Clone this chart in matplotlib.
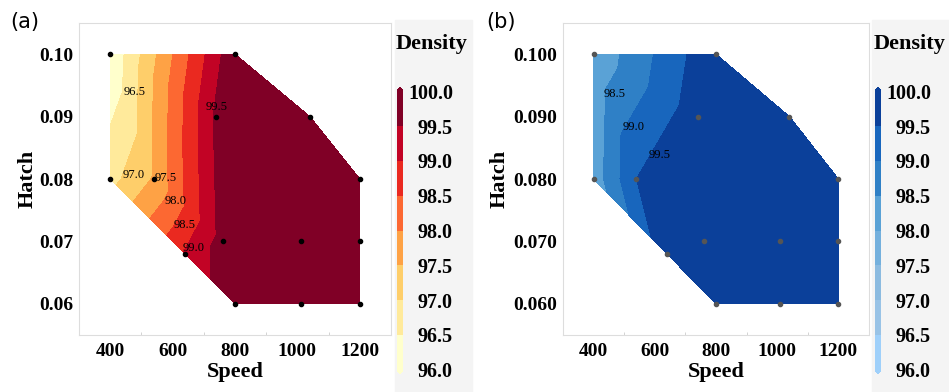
import numpy as np
import matplotlib
matplotlib.use('Agg')
import matplotlib.pyplot as plt
import matplotlib.tri as mtri
from matplotlib.colors import ListedColormap, BoundaryNorm
from matplotlib.patches import Rectangle

# design points (speed, hatch)
speed = [400, 800, 1040, 740, 1200, 400, 540, 760, 1010, 1200, 640, 800, 1010, 1200]
hatch = [0.100, 0.100, 0.090, 0.090, 0.080, 0.080, 0.080, 0.070, 0.070, 0.070, 0.068, 0.060, 0.060, 0.060]

# density at each point
density_a = [96.07, 99.92, 100.0, 99.6, 100.0, 96.82, 97.55, 99.7, 100.0, 100.0, 99.05, 99.95, 100.0, 100.0]
density_b = [98.11, 99.93, 100.0, 99.8, 100.0, 98.2, 99.5, 99.9, 100.0, 100.0, 99.85, 99.95, 100.0, 100.0]

levels = [96.0, 96.5, 97.0, 97.5, 98.0, 98.5, 99.0, 99.5, 100.0]

# contour labels: (text, speed, hatch)
labels_a = [('96.5', 477, 0.0939), ('99.5', 741, 0.0915), ('97.0', 474, 0.0806),
            ('97.5', 577, 0.0801), ('98.0', 609, 0.0764), ('98.5', 638, 0.0727),
            ('99.0', 667, 0.0690)]
labels_b = [('98.5', 469, 0.0936), ('99.0', 531, 0.0884), ('99.5', 616, 0.0838)]

reds = plt.get_cmap('YlOrRd')(np.linspace(0, 1, 8))
blues = ['#9fd0fa', '#99c3e6', '#8cbbe0', '#74b0dd', '#5aa2d6', '#2f80c6', '#1866bd', '#0b409a']

SERIF = ['Liberation Serif', 'DejaVu Serif']


def triangulation(x, y):
    x = np.asarray(x, float)
    y = np.asarray(y, float)
    # triangulate in (roughly) screen space so the hatch axis is not squashed
    tri = mtri.Triangulation(x, y * 20000)
    return mtri.Triangulation(x, y, tri.triangles)


def panel(fig, rect, cbar_rect, z, colors, dot_color, ytick_fmt, clabels, tag, tag_x, bg_x, ylabpad):
    ax = fig.add_axes(rect)
    cmap = ListedColormap(colors)
    cmap.set_under(colors[0])
    cmap.set_over(colors[-1])
    norm = BoundaryNorm(levels, cmap.N)
    tri = triangulation(speed, hatch)
    cs = ax.tricontourf(tri, z, levels=levels, cmap=cmap, norm=norm, extend='both')
    ax.plot(speed, hatch, 'o', color=dot_color, ms=3, zorder=3)
    for txt, sx, hy in clabels:
        ax.text(sx, hy, txt, fontsize=9, family=SERIF, ha='center', va='center', zorder=4)

    ax.set_xlim(300, 1300)
    ax.set_ylim(0.055, 0.105)
    ax.set_xticks([400, 600, 800, 1000, 1200])
    ax.set_yticks([0.06, 0.07, 0.08, 0.09, 0.10])
    ax.set_yticklabels([ytick_fmt.format(v) for v in [0.06, 0.07, 0.08, 0.09, 0.10]])
    ax.set_xticks([500, 700, 900, 1100], minor=True)
    ax.tick_params(length=0, pad=6)
    ax.tick_params(axis='y', pad=4)
    ax.tick_params(which='minor', length=2, color='#cccccc', direction='in')
    for lab in ax.get_xticklabels() + ax.get_yticklabels():
        lab.set_family(SERIF)
        lab.set_fontweight('bold')
        lab.set_fontsize(14)
    for sp in ax.spines.values():
        sp.set_color('#dddddd')
    ax.set_xlabel('Speed', family=SERIF, fontweight='bold', fontsize=16, labelpad=1)
    ax.set_ylabel('Hatch', family=SERIF, fontweight='bold', fontsize=16, labelpad=ylabpad)

    fig.patches.append(Rectangle((bg_x, 0), 77 / 949, 372 / 392, transform=fig.transFigure,
                                 color='#f4f4f4', zorder=-1))
    cax = fig.add_axes(cbar_rect)
    cb = fig.colorbar(cs, cax=cax, ticks=levels, extendfrac=0.015)
    cb.outline.set_visible(False)
    cax.tick_params(length=0, pad=36)
    for lab in cax.get_yticklabels():
        lab.set_family(SERIF)
        lab.set_fontweight('bold')
        lab.set_fontsize(14.5)
        lab.set_horizontalalignment('right')
    cax.set_yticklabels(['{:.1f}'.format(v) for v in levels])
    fig.text(cbar_rect[0] - 0.001, 1 - 44 / 392, 'Density', family=SERIF, fontweight='bold',
             fontsize=16, ha='left', va='center')
    fig.text(tag_x, 1 - 22 / 392, tag, fontsize=15, ha='left', va='center')
    return ax


fig = plt.figure(figsize=(9.49, 3.92), dpi=100)
panel(fig, [79 / 949, 57 / 392, 312 / 949, 312 / 392], [397 / 949, 18 / 392, 6 / 949, 287 / 392],
      density_a, reds, 'black', '{:.2f}', labels_a, '(a)', 10 / 949, 395 / 949, 1)
panel(fig, [563 / 949, 57 / 392, 306 / 949, 312 / 392], [875 / 949, 18 / 392, 6 / 949, 287 / 392],
      density_b, blues, '#555555', '{:.3f}', labels_b, '(b)', 486 / 949, 872 / 949, 3)
fig.savefig('out.png', dpi=100)
